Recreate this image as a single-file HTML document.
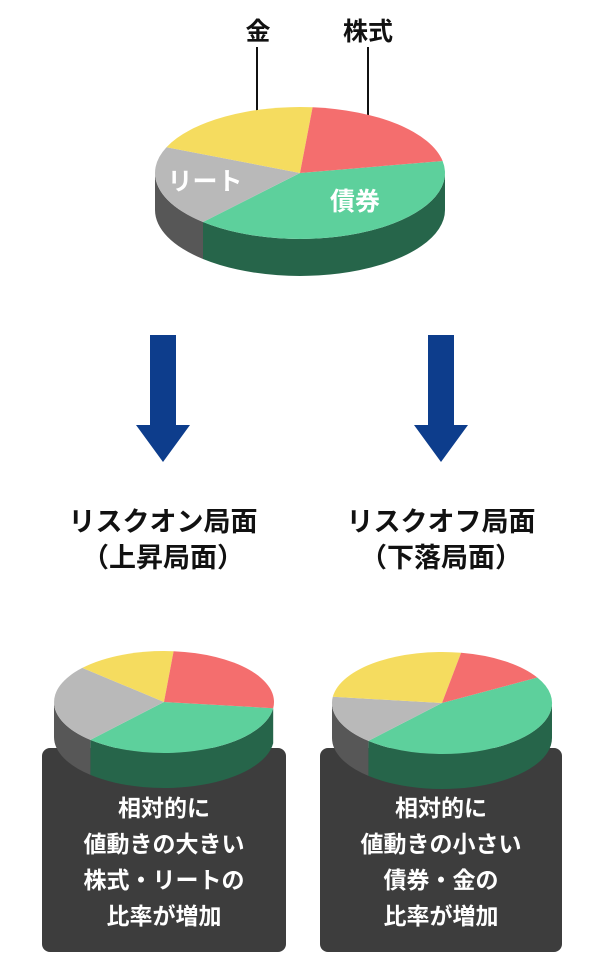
<!DOCTYPE html>
<html><head><meta charset="utf-8">
<style>
body{margin:0;background:#fff;width:600px;height:968px;overflow:hidden;font-family:"Liberation Sans","Noto Sans CJK JP",sans-serif;}
svg{position:absolute;left:0;top:0}
.box{position:absolute;background:#3d3d3d;border-radius:8px;color:#fff;font-weight:bold;font-size:23px;line-height:36px;text-align:center;box-sizing:border-box;padding-top:42px}
.h{position:absolute;width:300px;text-align:center;font-weight:bold;font-size:27px;line-height:36px;color:#111}
</style></head><body>
<div class="box" style="left:42px;top:748px;width:244px;height:204px">相対的に<br>値動きの大きい<br>株式・リートの<br>比率が増加</div>
<div class="box" style="left:320px;top:748px;width:242px;height:204px">相対的に<br>値動きの小さい<br>債券・金の<br>比率が増加</div>
<div class="h" style="left:13px;top:504px">リスクオン局面<br>（上昇局面）</div>
<div class="h" style="left:291px;top:504px">リスクオフ局面<br>（下落局面）</div>
<svg id="s" width="600" height="968" xmlns="http://www.w3.org/2000/svg">
<line x1="257" y1="47" x2="257" y2="130" stroke="#111" stroke-width="2"/>
<line x1="368" y1="47" x2="368" y2="130" stroke="#111" stroke-width="2"/>
<text x="258" y="40" font-size="25" font-weight="bold" text-anchor="middle" fill="#111" font-family="Liberation Sans, Noto Sans CJK JP, sans-serif">金</text>
<text x="368" y="40" font-size="25" font-weight="bold" text-anchor="middle" fill="#111" font-family="Liberation Sans, Noto Sans CJK JP, sans-serif">株式</text>
<path d="M150 335 H176 V425 H190 L163 462 L136 425 H150 Z" fill="#0d3d8c"/>
<path d="M428 335 H454 V425 H468 L441 462 L414 425 H428 Z" fill="#0d3d8c"/>
<g id="pies"></g>
<text x="205" y="190" font-size="25" font-weight="bold" text-anchor="middle" fill="#fff" font-family="Liberation Sans, Noto Sans CJK JP, sans-serif">リート</text>
<text x="355" y="210" font-size="25" font-weight="bold" text-anchor="middle" fill="#fff" font-family="Liberation Sans, Noto Sans CJK JP, sans-serif">債券</text>
</svg>
<script>
var C={y:"#f5dc5f",r:"#f46e6e",g:"#5dd09c",k:"#b9b9b9"},D={g:"#26654a",k:"#575757"};
function pie(cx,cy,rx,ry,d,sl){
 var o="";
 function p(a,dy){a=a*Math.PI/180;return (cx+rx*Math.cos(a)).toFixed(1)+" "+(cy+ry*Math.sin(a)+(dy||0)).toFixed(1);}
 sl.forEach(function(s){
  var a1=Math.max(s[1],0),a2=Math.min(s[2],180);
  if(a2>a1&&D[s[0]]){
   o+='<path d="M'+p(a1)+' A'+rx+' '+ry+' 0 0 1 '+p(a2)+' L'+p(a2,d)+' A'+rx+' '+ry+' 0 0 0 '+p(a1,d)+' Z" fill="'+D[s[0]]+'"/>';
  }
 });
 sl.forEach(function(s){
  var lg=(s[2]-s[1])>180?1:0;
  o+='<path d="M'+cx+' '+cy+' L'+p(s[1])+' A'+rx+' '+ry+' 0 '+lg+' 1 '+p(s[2])+' Z" fill="'+C[s[0]]+'"/>';
 });
 return o;
}
var h=pie(300,173,145,66,37,[["g",-10.5,132],["k",132,203],["y",203,275],["r",275,349.5]]);
h+=pie(164,702,110,51,35,[["g",7,132],["k",132,222],["y",222,275],["r",275,367]]);
h+=pie(442,703,110,51,35,[["g",-30,132],["k",132,187],["y",187,280],["r",280,330]]);
document.getElementById("pies").innerHTML=h;
</script>
</body></html>
